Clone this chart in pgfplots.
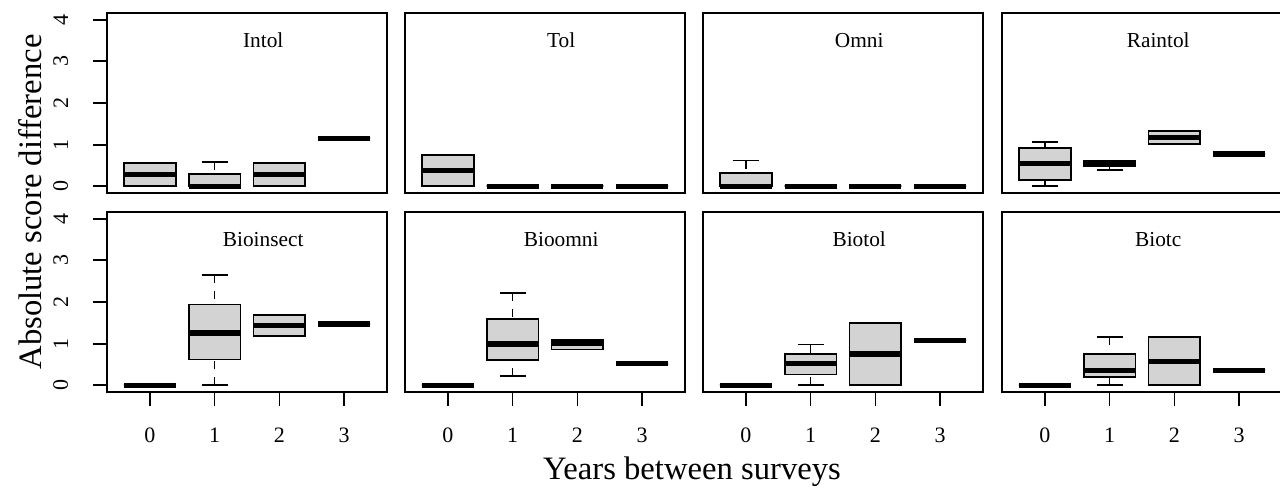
\documentclass[border=0pt]{standalone}
\usepackage{fontspec}
\setmainfont{Liberation Serif}
\usepackage{pgfplots}
\pgfplotsset{compat=1.18}
\usepgfplotslibrary{statistics}
\definecolor{boxgray}{HTML}{D3D3D3}

% one prepared box: position, lower whisker, Q1, median, Q3, upper whisker
\newcommand\bx[6]{\addplot[boxplot prepared={draw position=#1,
  lower whisker=#2, lower quartile=#3, median=#4,
  upper quartile=#5, upper whisker=#6}] coordinates {};}

\newcommand\ptitle[1]{\node[font=\fontsize{16}{19}\selectfont] at (axis cs:1.75,3.5) {#1};}

\pgfplotsset{
  panel/.style={
    scale only axis, width=210pt, height=135pt,
    xmin=-0.66, xmax=3.66, ymin=-0.16, ymax=4.16,
    axis line style={line width=1.5pt},
    every tick/.style={black, line width=1.3pt},
    tick align=outside, major tick length=10.5pt,
    xtick=\empty, ytick=\empty,
    xtick pos=lower, ytick pos=left,
    anchor=south west, clip=false,
    ticklabel style={font=\fontsize{16.5}{19}\selectfont, inner sep=0pt},
    /pgf/number format/assume math mode=true,
    cycle list={{black}},
    boxplot/draw direction=y,
    boxplot/box extend=0.8,
    boxplot/every box/.style={fill=boxgray, draw=black, line width=1.4pt},
    boxplot/every median/.style={line width=4pt},
    boxplot/draw/lower whisker/.code={%
      \draw[line width=1.3pt, dash pattern=on 6pt off 6pt]
        (boxplot cs:\pgfplotsboxplotvalue{lower whisker}) --
        (boxplot cs:\pgfplotsboxplotvalue{lower quartile});
      \draw[line width=1.3pt]
        (boxplot box cs:\pgfplotsboxplotvalue{lower whisker},0.25) --
        (boxplot box cs:\pgfplotsboxplotvalue{lower whisker},0.75);
    },
    boxplot/draw/upper whisker/.code={%
      \draw[line width=1.3pt, dash pattern=on 6pt off 6pt]
        (boxplot cs:\pgfplotsboxplotvalue{upper whisker}) --
        (boxplot cs:\pgfplotsboxplotvalue{upper quartile});
      \draw[line width=1.3pt]
        (boxplot box cs:\pgfplotsboxplotvalue{upper whisker},0.25) --
        (boxplot box cs:\pgfplotsboxplotvalue{upper whisker},0.75);
    },
  },
  leftcol/.style={ytick={0,1,2,3,4},
    yticklabel style={rotate=90, anchor=south}, yticklabel shift=18.5pt},
  bottomrow/.style={xtick={0,1,2,3},
    xticklabel style={anchor=north}, xticklabel shift=16pt},
}

\begin{document}
\begin{tikzpicture}
% ---------- top row ----------
\begin{axis}[panel, leftcol, at={(80.25pt,220.5pt)}]
\bx{0}{0}{0}{0.29}{0.57}{0.57}
\bx{1}{0}{0}{0}{0.30}{0.58}
\bx{2}{0}{0}{0.29}{0.57}{0.57}
\bx{3}{1.15}{1.15}{1.15}{1.15}{1.15}
\ptitle{Intol}
\end{axis}
\begin{axis}[panel, at={(303.75pt,220.5pt)}]
\bx{0}{0}{0}{0.38}{0.75}{0.75}
\bx{1}{0}{0}{0}{0}{0}
\bx{2}{0}{0}{0}{0}{0}
\bx{3}{0}{0}{0}{0}{0}
\ptitle{Tol}
\end{axis}
\begin{axis}[panel, at={(527.25pt,220.5pt)}]
\bx{0}{0}{0}{0}{0.32}{0.62}
\bx{1}{0}{0}{0}{0}{0}
\bx{2}{0}{0}{0}{0}{0}
\bx{3}{0}{0}{0}{0}{0}
\ptitle{Omni}
\end{axis}
\begin{axis}[panel, at={(751.5pt,220.5pt)}]
\bx{0}{0}{0.16}{0.55}{0.93}{1.07}
\bx{1}{0.40}{0.48}{0.54}{0.60}{0.60}
\bx{2}{1.02}{1.02}{1.17}{1.32}{1.32}
\bx{3}{0.78}{0.78}{0.78}{0.78}{0.78}
\ptitle{Raintol}
\end{axis}
% ---------- bottom row ----------
\begin{axis}[panel, leftcol, bottomrow, at={(80.25pt,71.25pt)}]
\bx{0}{0}{0}{0}{0}{0}
\bx{1}{0}{0.62}{1.26}{1.94}{2.64}
\bx{2}{1.18}{1.18}{1.43}{1.68}{1.68}
\bx{3}{1.47}{1.47}{1.47}{1.47}{1.47}
\ptitle{Bioinsect}
\end{axis}
\begin{axis}[panel, bottomrow, at={(303.75pt,71.25pt)}]
\bx{0}{0}{0}{0}{0}{0}
\bx{1}{0.22}{0.60}{0.99}{1.60}{2.22}
\bx{2}{0.86}{0.86}{1.00}{1.08}{1.08}
\bx{3}{0.52}{0.52}{0.52}{0.52}{0.52}
\ptitle{Bioomni}
\end{axis}
\begin{axis}[panel, bottomrow, at={(527.25pt,71.25pt)}]
\bx{0}{0}{0}{0}{0}{0}
\bx{1}{0}{0.26}{0.53}{0.76}{0.98}
\bx{2}{0}{0}{0.75}{1.50}{1.50}
\bx{3}{1.08}{1.08}{1.08}{1.08}{1.08}
\ptitle{Biotol}
\end{axis}
\begin{axis}[panel, bottomrow, at={(751.5pt,71.25pt)}]
\bx{0}{0}{0}{0}{0}{0}
\bx{1}{0}{0.19}{0.36}{0.75}{1.16}
\bx{2}{0}{0}{0.58}{1.15}{1.15}
\bx{3}{0.36}{0.36}{0.36}{0.36}{0.36}
\ptitle{Biotc}
\end{axis}
% shared axis titles
\node[rotate=90, font=\fontsize{24.5}{28}\selectfont] at (22.5pt,213.75pt) {Absolute score difference};
\node[anchor=base, font=\fontsize{24.5}{28}\selectfont] at (519pt,6pt) {Years between surveys};
\pgfresetboundingbox
\path (0pt,0pt) rectangle (960pt,365.25pt);
\end{tikzpicture}
\end{document}
